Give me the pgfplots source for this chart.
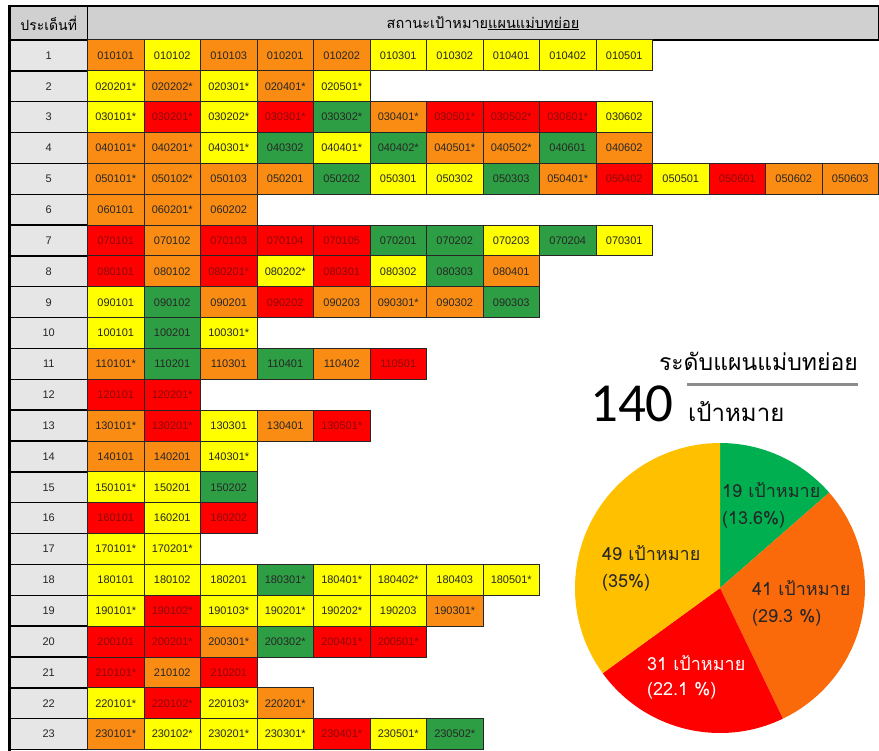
\documentclass[border=0pt]{standalone}
\usepackage{pgfplots}
\pgfplotsset{compat=1.18}
\usepackage{pgfplotstable}
\usepackage{fontspec}
\setmainfont{Liberation Sans}
\newfontfamily\thai[Script=Thai]{Loma}
\newfontfamily\calib{Carlito}
\definecolor{cY}{HTML}{FFFF00}
\definecolor{cO}{HTML}{FA8C14}
\definecolor{cR}{HTML}{FF0000}
\definecolor{cG}{HTML}{2E9E44}
\definecolor{tR}{HTML}{8B0A0A}
\definecolor{tx}{HTML}{262626}
\definecolor{hdr}{HTML}{D0D0D0}
\definecolor{lab}{HTML}{E6E6E6}
\definecolor{pG}{HTML}{00B050}
\definecolor{pO}{HTML}{FA6A0A}
\definecolor{pR}{HTML}{FF0000}
\definecolor{pY}{HTML}{FFC000}
\definecolor{lineg}{HTML}{8C8C8C}
\newcommand\cellfnt{\fontsize{11}{13}\selectfont}
\newcommand\labfnt{\fontsize{11}{13}\selectfont}

% r = row (issue), c = column, k = status (1 yellow, 2 orange, 3 red, 4 green)
\pgfplotstableread{
r c k code
1 1 2 010101
1 2 1 010102
1 3 2 010103
1 4 2 010201
1 5 2 010202
1 6 1 010301
1 7 1 010302
1 8 1 010401
1 9 1 010402
1 10 1 010501
2 1 1 020201*
2 2 2 020202*
2 3 1 020301*
2 4 2 020401*
2 5 1 020501*
3 1 1 030101*
3 2 3 030201*
3 3 1 030202*
3 4 3 030301*
3 5 4 030302*
3 6 2 030401*
3 7 3 030501*
3 8 3 030502*
3 9 3 030601*
3 10 1 030602
4 1 2 040101*
4 2 2 040201*
4 3 1 040301*
4 4 4 040302
4 5 1 040401*
4 6 4 040402*
4 7 2 040501*
4 8 2 040502*
4 9 4 040601
4 10 2 040602
5 1 2 050101*
5 2 2 050102*
5 3 2 050103
5 4 2 050201
5 5 4 050202
5 6 1 050301
5 7 1 050302
5 8 4 050303
5 9 2 050401*
5 10 3 050402
5 11 1 050501
5 12 3 050601
5 13 2 050602
5 14 2 050603
6 1 2 060101
6 2 2 060201*
6 3 2 060202
7 1 3 070101
7 2 2 070102
7 3 3 070103
7 4 3 070104
7 5 3 070105
7 6 4 070201
7 7 4 070202
7 8 1 070203
7 9 4 070204
7 10 1 070301
8 1 3 080101
8 2 2 080102
8 3 3 080201*
8 4 1 080202*
8 5 3 080301
8 6 1 080302
8 7 4 080303
8 8 2 080401
9 1 1 090101
9 2 4 090102
9 3 2 090201
9 4 3 090202
9 5 2 090203
9 6 2 090301*
9 7 2 090302
9 8 4 090303
10 1 1 100101
10 2 4 100201
10 3 1 100301*
11 1 2 110101*
11 2 4 110201
11 3 2 110301
11 4 4 110401
11 5 2 110402
11 6 3 110501
12 1 3 120101
12 2 3 120201*
13 1 2 130101*
13 2 3 130201*
13 3 1 130301
13 4 2 130401
13 5 3 130501*
14 1 2 140101
14 2 2 140201
14 3 1 140301*
15 1 1 150101*
15 2 1 150201
15 3 4 150202
16 1 3 160101
16 2 1 160201
16 3 3 160202
17 1 1 170101*
17 2 1 170201*
18 1 1 180101
18 2 1 180102
18 3 1 180201
18 4 4 180301*
18 5 1 180401*
18 6 1 180402*
18 7 1 180403
18 8 1 180501*
19 1 1 190101*
19 2 3 190102*
19 3 1 190103*
19 4 1 190201*
19 5 1 190202*
19 6 1 190203
19 7 2 190301*
20 1 3 200101
20 2 3 200201*
20 3 2 200301*
20 4 4 200302*
20 5 3 200401*
20 6 3 200501*
21 1 3 210101*
21 2 2 210102
21 3 3 210201
22 1 1 220101*
22 2 3 220102*
22 3 1 220103*
22 4 2 220201*
23 1 2 230101*
23 2 1 230102*
23 3 1 230201*
23 4 1 230301*
23 5 3 230401*
23 6 1 230501*
23 7 4 230502*
}\cells

\pgfplotstableread{
r n
1 1
2 2
3 3
4 4
5 5
6 6
7 7
8 8
9 9
10 10
11 11
12 12
13 13
14 14
15 15
16 16
17 17
18 18
19 19
20 20
21 21
22 22
23 23
}\labels

\pgfplotstableread{
i v
1 19
2 41
3 31
4 49
}\piedata

\pgfplotsset{
  cell/.style 2 args={only marks, mark=none, point meta=explicit symbolic,
    nodes near coords={\pgfplotspointmeta},
    restrict expr to domain={\thisrow{k}}{#1:#1},
    every node near coord/.append style={anchor=center, draw=black!85,
      line width=1pt, fill=#2, minimum width=56.5pt, minimum height=30.85pt,
      inner sep=0pt, font=\cellfnt, text=tx}},
}

\begin{document}
\begin{tikzpicture}
\pgfplotstablegetelem{0}{v}\of\piedata \let\vA\pgfplotsretval
\pgfplotstablegetelem{1}{v}\of\piedata \let\vB\pgfplotsretval
\pgfplotstablegetelem{2}{v}\of\piedata \let\vC\pgfplotsretval
\pgfplotstablegetelem{3}{v}\of\piedata \let\vD\pgfplotsretval
\pgfmathsetmacro\tot{\vA+\vB+\vC+\vD}
\pgfmathsetmacro\dg{360/\tot}
\pgfmathsetmacro\aA{90}
\pgfmathsetmacro\aB{\aA-\dg*\vA}
\pgfmathsetmacro\aC{\aB-\dg*\vB}
\pgfmathsetmacro\aD{\aC-\dg*\vC}
\pgfmathsetmacro\aE{\aD-\dg*\vD}
\begin{axis}[width=879pt, height=751pt, scale only axis,
  xmin=0, xmax=879, ymin=0, ymax=751, y dir=reverse,
  hide axis, clip=false]

% header
\addplot[only marks, mark=none, nodes near coords={\thai ประเด็นที่},
  every node near coord/.append style={anchor=center, draw=black, line width=1.5pt,
    fill=hdr, minimum width=77.5pt, minimum height=34pt, inner sep=0pt,
    font=\thai\fontsize{14}{16}\selectfont}]
  coordinates {(48.75,23)};
\addplot[only marks, mark=none, nodes near coords={\thai สถานะเป้าหมาย\underline{แผนแม่บทย่อย}},
  every node near coord/.append style={anchor=center, draw=black, line width=1.5pt,
    fill=hdr, minimum width=791pt, minimum height=34pt, inner sep=0pt,
    font=\thai\fontsize{14.5}{16}\selectfont}]
  coordinates {(483,23)};

% row labels
\addplot[only marks, mark=none, point meta=explicit symbolic,
  nodes near coords={\pgfplotspointmeta},
  every node near coord/.append style={anchor=center, draw=black, line width=1.4pt,
    fill=lab, minimum width=77.5pt, minimum height=30.85pt, inner sep=0pt,
    font=\labfnt, text=tx}]
  table[x expr=48.75, y expr={40+30.85*(\thisrow{r}-0.5)}, meta=n]{\labels};

% cells
\addplot[cell={1}{cY}] table[x expr={87.5+56.5*(\thisrow{c}-0.5)}, y expr={40+30.85*(\thisrow{r}-0.5)}, meta=code]{\cells};
\addplot[cell={2}{cO}] table[x expr={87.5+56.5*(\thisrow{c}-0.5)}, y expr={40+30.85*(\thisrow{r}-0.5)}, meta=code]{\cells};
\addplot[cell={3}{cR}, every node near coord/.append style={text=tR}] table[x expr={87.5+56.5*(\thisrow{c}-0.5)}, y expr={40+30.85*(\thisrow{r}-0.5)}, meta=code]{\cells};
\addplot[cell={4}{cG}] table[x expr={87.5+56.5*(\thisrow{c}-0.5)}, y expr={40+30.85*(\thisrow{r}-0.5)}, meta=code]{\cells};

% thick left border
\addplot[black, line width=3pt, mark=none] coordinates {(9,5) (9,751)};

% pie
\fill[pG] (axis cs:720,588) -- ++(\aA:145pt) arc[start angle=\aA, end angle=\aB, radius=145pt] -- cycle;
\fill[pO] (axis cs:720,588) -- ++(\aB:145pt) arc[start angle=\aB, end angle=\aC, radius=145pt] -- cycle;
\fill[pR] (axis cs:720,588) -- ++(\aC:145pt) arc[start angle=\aC, end angle=\aD, radius=145pt] -- cycle;
\fill[pY] (axis cs:720,588) -- ++(\aD:145pt) arc[start angle=\aD, end angle=\aE, radius=145pt] -- cycle;

\node[anchor=base west, inner sep=0pt, text=tx, font=\thai\fontsize{18}{20}\selectfont] at (axis cs:722,497) {19 เป้าหมาย};
\node[anchor=base west, inner sep=0pt, text=tx, font=\thai\fontsize{18}{20}\selectfont] at (axis cs:722,524) {(13.6\%)};
\node[anchor=base west, inner sep=0pt, text=tx, font=\thai\fontsize{18}{20}\selectfont] at (axis cs:602,560) {49 เป้าหมาย};
\node[anchor=base west, inner sep=0pt, text=tx, font=\thai\fontsize{18}{20}\selectfont] at (axis cs:602,587) {(35\%)};
\node[anchor=base west, inner sep=0pt, text=tx, font=\thai\fontsize{18}{20}\selectfont] at (axis cs:752,595) {41 เป้าหมาย};
\node[anchor=base west, inner sep=0pt, text=tx, font=\thai\fontsize{18}{20}\selectfont] at (axis cs:752,622) {(29.3 \%)};
\node[anchor=base west, inner sep=0pt, text=white, font=\thai\fontsize{18}{20}\selectfont] at (axis cs:647,670) {31 เป้าหมาย};
\node[anchor=base west, inner sep=0pt, text=white, font=\thai\fontsize{18}{20}\selectfont] at (axis cs:647,695) {(22.1 \%)};

% title block
\node[anchor=base east, inner sep=0pt, font=\thai\fontsize{23}{27}\selectfont] at (axis cs:858,371) {ระดับแผนแม่บทย่อย};
\addplot[lineg, line width=3pt, mark=none] coordinates {(687,385) (858,385)};
\node[anchor=base west, inner sep=0pt, font=\calib\fontsize{55}{60}\selectfont] at (axis cs:590,422) {140};
\node[anchor=base west, inner sep=0pt, font=\thai\fontsize{24}{28}\selectfont] at (axis cs:688,422) {เป้าหมาย};
\end{axis}
\pgfresetboundingbox
\path (current axis.south west) rectangle (current axis.north east);
\end{tikzpicture}
\end{document}
